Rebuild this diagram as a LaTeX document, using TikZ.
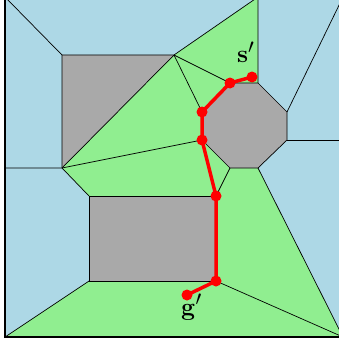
\documentclass[tikz,border=0pt]{standalone}
\definecolor{cellblue}{RGB}{173,216,230}
\definecolor{cellgreen}{RGB}{144,238,144}
\definecolor{obstgray}{RGB}{169,169,169}

\begin{document}
\begin{tikzpicture}[x=1pt, y=-1pt,
    edge/.style={draw=black, line width=0.7pt},
    route/.style={red, line width=3.5pt},
    waypoint/.style={circle, fill=red, inner sep=0pt, minimum size=11pt},
    every node/.style={font=\fontsize{30}{32}\selectfont}]
  \useasboundingbox (0,0) rectangle (339,345);
  \clip (0,0) rectangle (339,345);

  % outer square and cell corners
  \coordinate (nw) at (5,-3);
  \coordinate (ne) at (343,-3);
  \coordinate (se) at (343,337);
  \coordinate (sw) at (5,337);
  \coordinate (top) at (258,-3);
  \coordinate (left) at (5,168);
  \coordinate (right) at (343,140);

  % obstacles
  \coordinate (a1) at (62,55);
  \coordinate (a2) at (174,55);
  \coordinate (a3) at (62,168);
  \coordinate (o1) at (230,83);
  \coordinate (o2) at (258,83);
  \coordinate (o3) at (287,112);
  \coordinate (o4) at (287,140);
  \coordinate (o5) at (258,168);
  \coordinate (o6) at (230,168);
  \coordinate (o7) at (202,140);
  \coordinate (o8) at (202,112);
  \coordinate (b1) at (89,196);
  \coordinate (b2) at (216,196);
  \coordinate (b3) at (216,281);
  \coordinate (b4) at (89,281);
  \coordinate (start) at (252,77);
  \coordinate (goal) at (187,295);

  % cells
  \fill[cellblue] (nw) rectangle (se);
  \fill[cellgreen] (a2) -- (top) -- (o2) -- (o1) -- (o8) -- (o7) -- (o6) -- (o5)
    -- (se) -- (sw) -- (b4) -- (b1) -- (a3) -- cycle;
  \fill[obstgray] (a1) -- (a2) -- (a3) -- cycle;
  \fill[obstgray] (o1) -- (o2) -- (o3) -- (o4) -- (o5) -- (o6) -- (o7) -- (o8) -- cycle;
  \fill[obstgray] (b1) rectangle (b3);

  % cell borders
  \draw[edge] (nw) -- (a1) -- (a2) -- (top) -- (o2);
  \draw[edge] (a2) -- (a3) -- (left);
  \draw[edge] (a1) -- (a3) -- (b1);
  \draw[edge] (a2) -- (o1);
  \draw[edge] (a2) -- (o8);
  \draw[edge] (a3) -- (o7);
  \draw[edge] (o1) -- (o2) -- (o3) -- (o4) -- (o5) -- (o6) -- (o7) -- (o8) -- cycle;
  \draw[edge] (o3) -- (ne);
  \draw[edge] (o4) -- (right);
  \draw[edge] (o5) -- (se);
  \draw[edge] (o6) -- (b2);
  \draw[edge] (b1) rectangle (b3);
  \draw[edge] (b3) -- (se);
  \draw[edge] (b4) -- (sw);
  \draw[draw=black, line width=1.4pt] (nw) rectangle (se);

  % path
  \draw[route] (start) -- (o1) -- (o8) -- (o7) -- (b2) -- (b3) -- (goal);
  \foreach \p in {start, o1, o8, o7, b2, b3, goal}
    \node[waypoint] (dot-\p) at (\p) {};

  \node[anchor=base west, inner sep=0pt] (slabel) at (237,63) {$\mathbf{s}'$};
  \node[anchor=base west, inner sep=0pt] (glabel) at (181,315) {$\mathbf{g}'$};
\end{tikzpicture}
\end{document}
